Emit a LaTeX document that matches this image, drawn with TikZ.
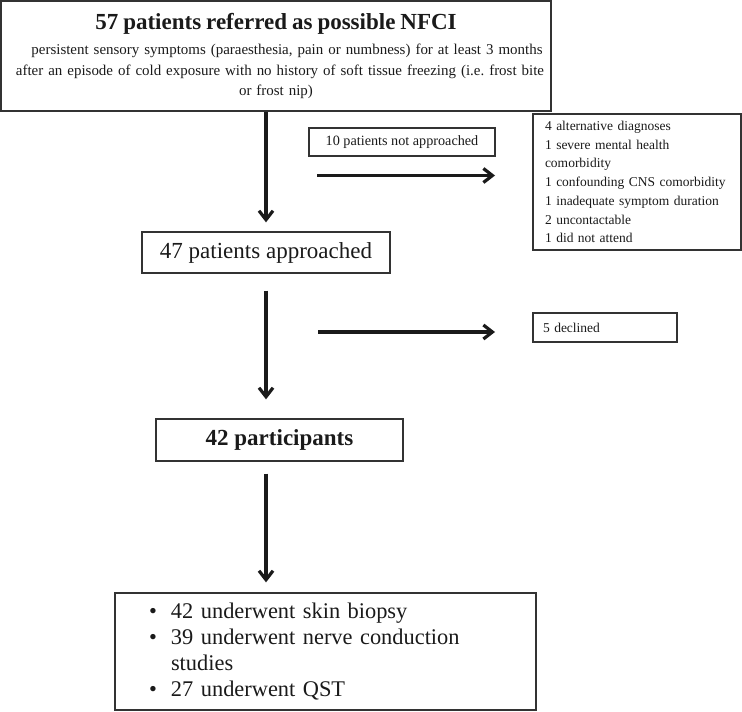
\documentclass[tikz,border=0pt]{standalone}
\usepackage{fontspec}
\setmainfont{Liberation Serif}
\usetikzlibrary{arrows.meta}
\definecolor{boxgray}{HTML}{333333}
\definecolor{ink}{HTML}{1A1A1A}
\frenchspacing
\begin{document}
\begin{tikzpicture}[x=1pt,y=-1pt,
  box/.style={draw=boxgray, line width=1.3pt, inner sep=0pt, text=ink},
  arr/.style={draw=ink, line width=3.2pt, -{Straight Barb[length=9pt,width=14pt]}},
  small/.style={font=\fontsize{13.5}{18.7}\selectfont},
  big/.style={font=\fontsize{23}{26}\selectfont},
  bigb/.style={font=\fontsize{23}{26}\selectfont\bfseries}]
\useasboundingbox (0,0) rectangle (742,712);
\coordinate (colx) at (266,0);
% boxes
\node[box, minimum width=550pt, minimum height=110pt, text width=546pt, align=center,
      font=\fontsize{14.95}{20.5}\selectfont] (top) at (276,56)
  {{\fontsize{23}{25}\selectfont\bfseries 57 patients referred as possible NFCI\par}\vspace{4.5pt}
   \mbox{\hspace*{22pt}persistent sensory symptoms (paraesthesia, pain or numbness) for at least 3 months}\\
   \mbox{\hspace*{8pt}after an episode of cold exposure with no history of soft tissue freezing (i.e. frost bite}\\
   \mbox{or frost nip)}};
\node[box, font=\fontsize{14.2}{18}\selectfont, minimum width=186pt, minimum height=28pt] (notappr) at (402,142)
  {10 patients not approached};
\node[box, small, minimum width=208pt, minimum height=136pt, text width=184pt,
      inner xsep=12pt, align=left] (reasons) at (637,182)
  {\mbox{4 alternative diagnoses}\\
   \mbox{1 severe mental health}\\
   \mbox{comorbidity}\\
   \mbox{1 confounding CNS comorbidity}\\
   \mbox{1 inadequate symptom duration}\\
   \mbox{2 uncontactable}\\
   \mbox{1 did not attend}};
\node[box, big, minimum width=248pt, minimum height=41pt] (appr) at (266,252.5)
  {47 patients approached};
\node[box, small, minimum width=144pt, minimum height=29pt, text width=124pt,
      inner xsep=10pt, align=left] (declined) at (605,327.5)
  {5 declined};
\node[box, bigb, minimum width=247pt, minimum height=42pt] (part) at (279.5,440)
  {42 participants};
\node[box, font=\fontsize{22.4}{26}\selectfont, minimum width=421pt, minimum height=117pt,
      text width=353pt, inner xsep=34pt, align=left] (final) at (325.5,651.5)
  {\mbox{\makebox[22pt][l]{\textbullet}42 underwent skin biopsy}\\
   \mbox{\makebox[22pt][l]{\textbullet}39 underwent nerve conduction}\\
   \mbox{\hspace*{22pt}studies}\\
   \mbox{\makebox[22pt][l]{\textbullet}27 underwent QST}};
% side arrow end points
\coordinate (s1a) at (317,175.5);
\coordinate (s1b) at (495,175.5);
\coordinate (s2a) at (318,332);
\coordinate (s2b) at (495,332);
% connectors
\draw[arr] (top.south -| colx) -- ([yshift=9pt]appr.north -| colx);
\draw[arr] ([yshift=-17pt]appr.south -| colx) -- ([yshift=19pt]part.north -| colx);
\draw[arr] ([yshift=-12pt]part.south -| colx) -- ([yshift=10pt]final.north -| colx);
\draw[arr] (s1a) -- (s1b);
\draw[arr] (s2a) -- (s2b);
\end{tikzpicture}
\end{document}
